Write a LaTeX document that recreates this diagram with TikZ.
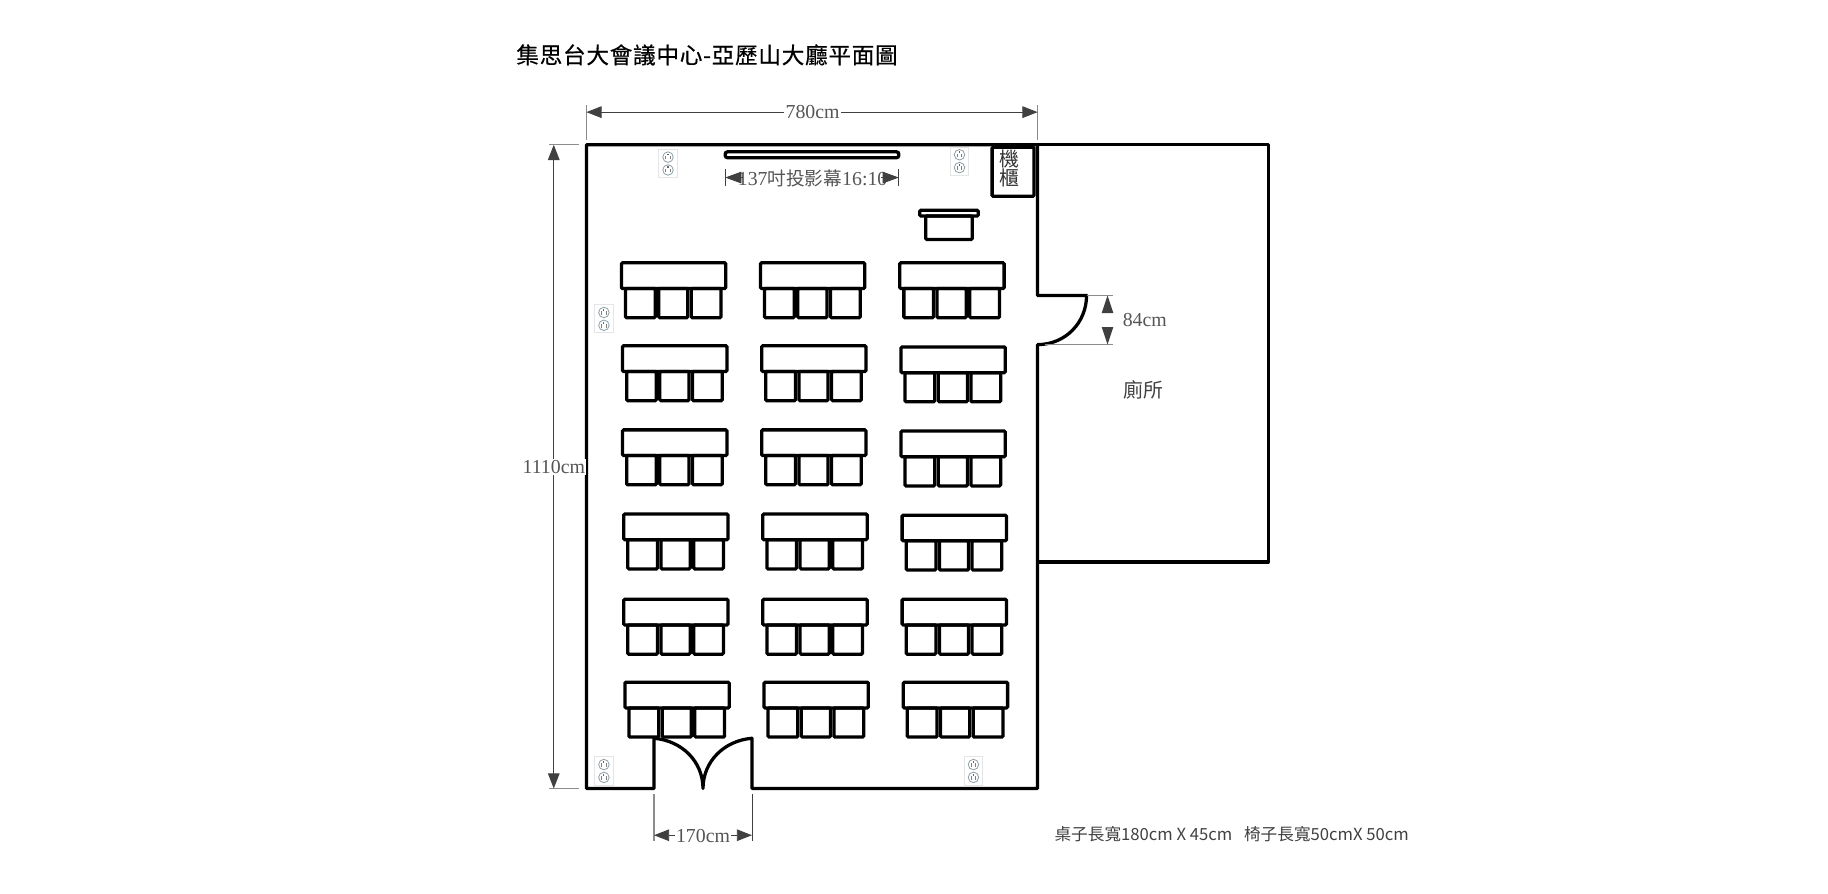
\documentclass[tikz,border=0pt]{standalone}
\usepackage{fontspec}
\usetikzlibrary{arrows.meta}
\setmainfont{Liberation Serif}
\newfontfamily\cjk{Noto Sans CJK TC}
\newfontfamily\cjktitle[FakeBold=0.5,LetterSpace=3.2]{Noto Sans CJK TC}
\definecolor{dimc}{HTML}{404040}
\definecolor{extc}{HTML}{8C8C8C}
\definecolor{lab}{HTML}{555555}
\definecolor{ringc}{HTML}{8FA0A8}
\tikzset{
 wall/.style={draw=black,line width=2.8pt,line join=round,line cap=round},
 furn/.style={draw=black,line width=2.8pt,rounded corners=1pt},
 dimline/.style={draw=dimc,line width=0.8pt,{Triangle[length=13pt,width=10pt]}-{Triangle[length=13pt,width=10pt]}},
 dimhalf/.style={draw=dimc,line width=0.8pt,{Triangle[length=14pt,width=10pt]}-},
 extline/.style={draw=extc,line width=1pt},
 dimlabel/.style={font=\fontsize{17}{17}\selectfont,text=lab,inner sep=1pt},
 outletbox/.style={draw=black!10,line width=0.8pt,fill=white},
 outletring/.style={draw=ringc,line width=0.7pt}
}
\newcommand{\deskgroup}[2]{%
 \draw[furn] (#1,#2) rectangle ++(89.5,22);
 \draw[furn] (#1+3.5,#2+22) rectangle ++(25.5,25);
 \draw[furn] (#1+32,#2+22) rectangle ++(25,25);
 \draw[furn] (#1+60,#2+22) rectangle ++(25.5,25);
}
\newcommand{\outlet}[2]{%
 \draw[outletbox] (#1-8,#2-12) rectangle (#1+8,#2+12);
 \draw[outletring] (#1,#2-5.5) circle (4.5);
 \draw[outletring] (#1,#2+5.5) circle (4.5);
 \fill[black!60] (#1-0.5,#2-8.5) rectangle (#1+0.5,#2-7);
 \fill[black!60] (#1-0.5,#2+2.5) rectangle (#1+0.5,#2+4);
 \fill[black!50] (#1-2.5,#2-6.5) rectangle (#1-1.7,#2-3.5);
 \fill[black!50] (#1+1.7,#2-6.5) rectangle (#1+2.5,#2-3.5);
 \fill[black!50] (#1-2.5,#2+4.5) rectangle (#1-1.7,#2+7.5);
 \fill[black!50] (#1+1.7,#2+4.5) rectangle (#1+2.5,#2+7.5);
}
\begin{document}
\begin{tikzpicture}[x=1pt,y=-1.002pt]
\useasboundingbox (0,0) rectangle (1568,765.3);
% title
\node[inner sep=0pt] (title) at (606.5,47) {\cjktitle\fontsize{19.4}{19.4}\selectfont 集思台大會議中心-亞歷山大廳平面圖};
% outlets
\outlet{573}{140}
\outlet{823}{138}
\outlet{518}{273}
\outlet{518}{660}
\outlet{835}{660}
% walls
\draw[wall] (890,124) -- (503,124) -- (503,675) -- (561,675) -- (561,632)
  .. controls (585,634) and (603,652) .. (603,675)
  .. controls (603,652) and (621,634) .. (645,632)
  -- (645,675) -- (890,675) -- (890,295)
  .. controls (914,295) and (932,276) .. (932,253)
  -- (890,253) -- cycle;
\draw[wall] (890,124) -- (1088,124) -- (1088,481) -- (890,481);
% screen
\draw[draw=black,line width=2.8pt,rounded corners=2pt] (622,130) rectangle (771,135);
% cabinet
\draw[furn] (851,126) rectangle (887,168);
\node[font=\cjk\fontsize{17}{17}\selectfont,text=black!80,inner sep=0pt,align=center] (cabinet) at (866,144) {機\\[-1pt]櫃};
% podium
\draw[draw=black,line width=2.8pt,rounded corners=1pt] (789,180) rectangle (839,185);
\draw[furn] (794,185) rectangle (834,205);
% desks
\deskgroup{533}{225}\deskgroup{652.3}{225}\deskgroup{771.8}{225}
\deskgroup{534}{296}\deskgroup{653.3}{296}\deskgroup{772.8}{297}
\deskgroup{534}{368}\deskgroup{653.3}{368}\deskgroup{772.8}{369}
\deskgroup{535}{440}\deskgroup{654.3}{440}\deskgroup{773.8}{441}
\deskgroup{535}{513}\deskgroup{654.3}{513}\deskgroup{773.8}{513}
\deskgroup{536}{584}\deskgroup{655.3}{584}\deskgroup{774.8}{584}
% dimension coordinates
\coordinate (wL) at (503,96); \coordinate (wR) at (890,96);
\coordinate (hT) at (475,124); \coordinate (hB) at (475,675);
\coordinate (sL) at (622,152); \coordinate (sR) at (771,152);
\coordinate (sLe) at (637,152); \coordinate (sRe) at (756,152);
\coordinate (dL) at (561,715); \coordinate (dR) at (645,715);
\coordinate (tT) at (950,253); \coordinate (tB) at (950,295);
% extension lines
\draw[extline] (503,90) -- (503,120);
\draw[extline] (890,90) -- (890,120);
\draw[extline] (471,124) -- (497,124);
\draw[extline] (471,675) -- (497,675);
\draw[draw=dimc,line width=0.7pt] (622,145) -- (622,159);
\draw[draw=dimc,line width=0.7pt] (771,145) -- (771,159);
\draw[extline] (561,680) -- (561,720);
\draw[draw=dimc,line width=0.7pt] (645,680) -- (645,720);
\draw[extline] (932,253) -- (955,253);
\draw[extline] (896,295) -- (955,295);
% screen label sits under its arrows
\node[dimlabel] (lscreen) at (697,153) {137{\cjk\fontsize{16}{16}\selectfont 吋投影幕}16:10};
% dimension lines
\draw[dimline] (wL) -- (wR);
\draw[dimline] (hT) -- (hB);
\draw[dimhalf] (sL) -- (sLe);
\draw[dimhalf] (sR) -- (sRe);
\draw[dimline] (dL) -- (dR);
\fill[dimc] (tT) -- ++(5,15) -- ++(-10,0) -- cycle;
\fill[dimc] (tB) -- ++(5,-15) -- ++(-10,0) -- cycle;
% labels
\node[dimlabel,fill=white] (l780) at (697,96) {780cm};
\node[dimlabel,fill=white] (l1110) at (475,400) {1110cm};
\node[dimlabel,fill=white] (l170) at (603,716) {170cm};
\node[dimlabel] (l84) at (982,274) {84cm};
\node[dimlabel,font=\cjk\fontsize{17}{17}\selectfont,text=black!75] (toilet) at (981,334) {廁所};
\node[inner sep=0pt,text=black!75] (note) at (1056.5,714) {\cjk\fontsize{14.3}{14.3}\selectfont 桌子長寬180cm X 45cm\hspace{10pt}椅子長寬50cmX 50cm};
\end{tikzpicture}
\end{document}
